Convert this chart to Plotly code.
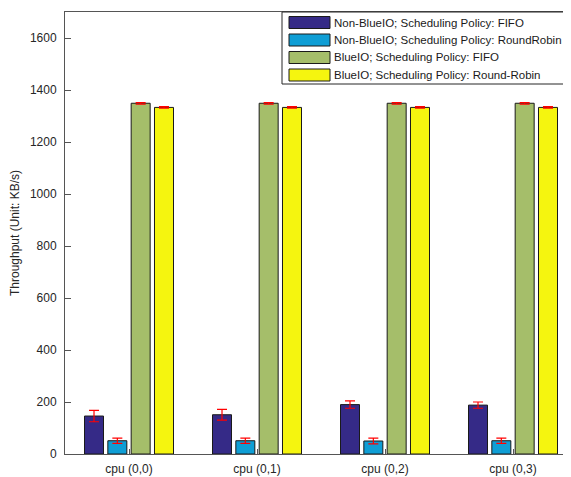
import plotly.graph_objects as go

categories = ["cpu (0,0)", "cpu (0,1)", "cpu (0,2)", "cpu (0,3)"]
series_names = [
    "Non-BlueIO; Scheduling Policy: FIFO",
    "Non-BlueIO; Scheduling Policy: RoundRobin",
    "BlueIO; Scheduling Policy: FIFO",
    "BlueIO; Scheduling Policy: Round-Robin",
]
nonblue_fifo = [146, 151, 190, 188]
nonblue_fifo_err = [22, 21, 14, 12]
nonblue_rr = [51, 51, 50, 51]
nonblue_rr_err = [10, 10, 11, 10]
blue_fifo = [1349, 1349, 1349, 1349]
blue_fifo_err = [3, 3, 3, 3]
blue_rr = [1333, 1333, 1333, 1333]
blue_rr_err = [3, 3, 3, 3]
y_ticks = [0, 200, 400, 600, 800, 1000, 1200, 1400, 1600]

colors = ["#352A87", "#0F9ED5", "#A5BE6A", "#F5F50F"]
values = [nonblue_fifo, nonblue_rr, blue_fifo, blue_rr]
errors = [nonblue_fifo_err, nonblue_rr_err, blue_fifo_err, blue_rr_err]

OFF = 8  # page body margin
W, H = 571 - OFF, 477 - OFF
# plot area in reference pixel coordinates: x 65..576, y 12..454
L = 65 - OFF
T = 12 - OFF
B = H - (454 - OFF)
R = 0
pw = W - L - R
ph = H - T - B
xpos = [1, 2, 3, 4]
unit = 128.0
xmax = 0.5 + pw / unit

fig = go.Figure()
for name, vals, errs, col in zip(series_names, values, errors, colors):
    fig.add_trace(go.Bar(
        x=xpos, y=vals, name=name,
        marker=dict(color=col, line=dict(color="#1a1a1a", width=1)),
        error_y=dict(type="data", array=errs, color="#FF0000", thickness=1.2, width=5),
        showlegend=False,
    ))

def px_x(px):
    return (px - 65) / pw

def px_y(py):
    return (454 - py) / ph

shapes = []
annotations = []
shapes.append(dict(type="rect", xref="paper", yref="paper",
                   x0=px_x(282), x1=px_x(620), y0=px_y(84), y1=px_y(12),
                   line=dict(color="#262626", width=1), fillcolor="white", layer="above"))
row_centers = [22.5, 40, 57.5, 75]
for name, col, cy in zip(series_names, colors, row_centers):
    shapes.append(dict(type="rect", xref="paper", yref="paper",
                       x0=px_x(289), x1=px_x(330), y0=px_y(cy + 6), y1=px_y(cy - 6),
                       line=dict(color="#1a1a1a", width=1), fillcolor=col, layer="above"))
    annotations.append(dict(xref="paper", yref="paper", x=px_x(332), y=px_y(cy),
                            text=name, showarrow=False, xanchor="left", yanchor="middle",
                            font=dict(size=11.5, color="#1a1a1a")))

fig.update_layout(
    width=W, height=H,
    margin=dict(l=L, r=R, t=T, b=B, pad=0),
    paper_bgcolor="white", plot_bgcolor="white",
    font=dict(family="Liberation Sans, Arial, sans-serif", size=12, color="#262626"),
    barmode="group", bargap=0.271, bargroupgap=0.185,
    shapes=shapes, annotations=annotations,
    xaxis=dict(range=[0.5, xmax], tickvals=xpos, ticktext=categories,
               ticks="inside", ticklen=5, tickcolor="#555", showgrid=False,
               showline=True, linecolor="#555", linewidth=1, mirror=True,
               zeroline=False, ticklabelstandoff=4),
    yaxis=dict(range=[0, 1700], tickvals=y_ticks, ticks="inside", ticklen=6,
               tickcolor="#555", showgrid=False, showline=True, linecolor="#555",
               linewidth=1, zeroline=False, ticklabelstandoff=5,
               title=dict(text="Throughput (Unit: KB/s)", standoff=8, font=dict(size=12))),
)

fig.write_html("out.html")
